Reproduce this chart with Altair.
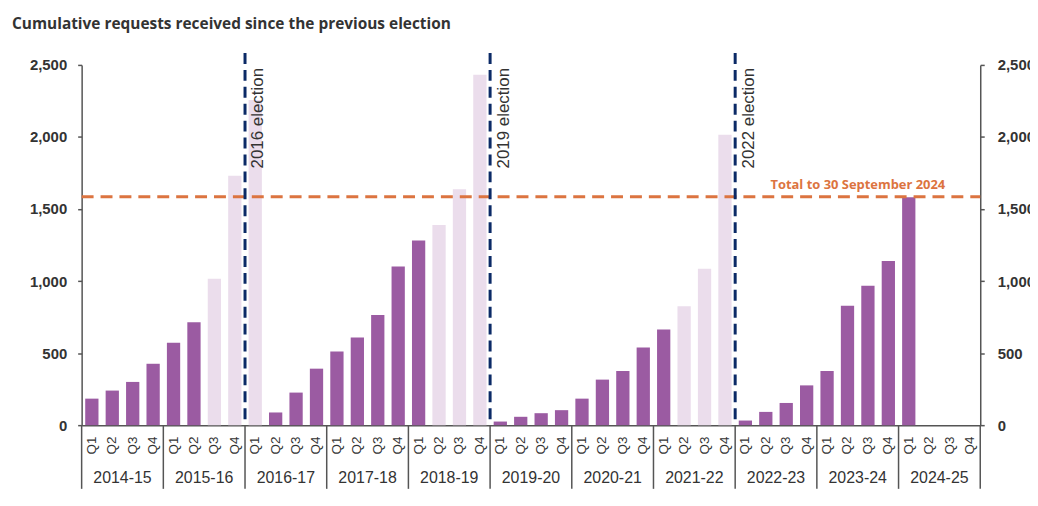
import altair as alt
import pandas as pd

# ---------------- data ----------------
years = ["2014-15", "2015-16", "2016-17", "2017-18", "2018-19", "2019-20",
         "2020-21", "2021-22", "2022-23", "2023-24", "2024-25"]
quarters = ["Q1", "Q2", "Q3", "Q4"]
requests = [
    184, 240, 300, 426,      # 2014-15
    571, 714, 1016, 1730,    # 2015-16
    2256, 88, 226, 392,      # 2016-17
    511, 608, 765, 1101,     # 2017-18
    1281, 1389, 1638, 2431,  # 2018-19
    25, 58, 83, 104,         # 2019-20
    184, 316, 376, 539,      # 2020-21
    664, 825, 1085, 2016,    # 2021-22
    32, 92, 154, 276,        # 2022-23
    376, 829, 968, 1140,     # 2023-24
    1581, None, None, None,  # 2024-25
]
light_bars = ["2015-16 Q3", "2015-16 Q4", "2016-17 Q1",
              "2018-19 Q2", "2018-19 Q3", "2018-19 Q4",
              "2021-22 Q2", "2021-22 Q3", "2021-22 Q4"]
election_years = ["2016-17", "2019-20", "2022-23"]
election_labels = ["2016 election", "2019 election", "2022 election"]
total_value = 1585
total_label = "Total to 30 September 2024"
title_text = "Cumulative requests received since the previous election"
y_ticks = [0, 500, 1000, 1500, 2000, 2500]

# ---------------- tables ----------------
keys = [f"{y} {q}" for y in years for q in quarters]
bars_df = pd.DataFrame({"key": keys, "value": requests})
bars_df["shade"] = ["light" if k in light_bars else "dark" for k in keys]
bars_df = bars_df.dropna(subset=["value"])

elec_df = pd.DataFrame({"key": [f"{y} Q1" for y in election_years],
                        "label": election_labels})
sep_df = pd.DataFrame({"key": [f"{y} Q1" for y in years]})
sep_end_df = pd.DataFrame({"key": [f"{years[-1]} Q4"]})
year_df = pd.DataFrame({"key": [f"{y} Q2" for y in years], "year": years})
total_df = pd.DataFrame({"total": [total_value], "label": [total_label]})
title_df = pd.DataFrame({"t": [title_text]})

W, H = 903, 362
step = W / len(keys)
FONT = "Liberation Sans"
HEAD = "Open Sans"
TXT = "#333333"

X = alt.X("key:N", sort=keys,
          scale=alt.Scale(domain=keys, paddingInner=0.35, paddingOuter=0.175),
          axis=alt.Axis(title=None, labelExpr="split(datum.label, ' ')[1]",
                        labelAngle=270, ticks=False, labelPadding=11,
                        labelFontSize=13.5, labelColor=TXT, labelFont=FONT,
                        domainColor="#555555", domainWidth=1.5))

yscale = alt.Scale(domain=[0, 2500], nice=False, zero=True)

bars = alt.Chart(bars_df).mark_bar().encode(
    x=X,
    y=alt.Y("value:Q", scale=yscale,
            axis=alt.Axis(title=None, values=y_ticks, format=",.0f", grid=False,
                          orient="left", tickSize=4, labelPadding=11,
                          labelFontSize=15, labelFontWeight="bold",
                          labelColor=TXT, labelFont=FONT,
                          domainColor="#555555", domainWidth=1.5,
                          tickColor="#555555", tickWidth=1.5)),
    color=alt.Color("shade:N", legend=None,
                    scale=alt.Scale(domain=["dark", "light"],
                                    range=["#9B5BA2", "#EBDDEC"])),
)

total_rule = alt.Chart(total_df).mark_rule(
    color="#DC7440", strokeWidth=3, strokeDash=[12, 7]
).encode(
    y=alt.Y("total:Q", scale=yscale,
            axis=alt.Axis(title=None, values=y_ticks, format=",.0f", grid=False,
                          orient="right", tickSize=4, labelPadding=13,
                          labelFontSize=15, labelFontWeight="bold",
                          labelColor=TXT, labelFont=FONT,
                          domainColor="#555555", domainWidth=1.5,
                          tickColor="#555555", tickWidth=1.5)),
    x=alt.value(0), x2=alt.value(W),
)

total_text = alt.Chart(total_df).mark_text(
    font=HEAD, fontSize=13, fontWeight="bold", color="#DC7440",
    align="center", baseline="alphabetic"
).encode(x=alt.value(780), y=alt.value(125), text="label:N")

elec_rule = alt.Chart(elec_df).mark_rule(
    color="#0B2A66", strokeWidth=3, strokeDash=[11, 6], xOffset=-step / 2
).encode(x=X, y=alt.value(-12), y2=alt.value(H))

elec_text = alt.Chart(elec_df).mark_text(
    font=FONT, fontSize=17, color=TXT, angle=270, align="right",
    baseline="top", xOffset=-step / 2 + 5.5
).encode(x=X, y=alt.value(3), text="label:N")

sep_rule = alt.Chart(sep_df).mark_rule(
    color="#555555", strokeWidth=1.5, xOffset=-step / 2
).encode(x=X, y=alt.value(H), y2=alt.value(H + 64))

sep_end = alt.Chart(sep_end_df).mark_rule(
    color="#555555", strokeWidth=1.5, xOffset=step / 2
).encode(x=X, y=alt.value(H), y2=alt.value(H + 64))

year_text = alt.Chart(year_df).mark_text(
    font=FONT, fontSize=16, color=TXT, align="center", baseline="middle",
    xOffset=step / 2
).encode(x=X, y=alt.value(H + 53), text="year:N")

title = alt.Chart(title_df).mark_text(
    font=HEAD, fontSize=15.5, fontWeight="bold", color=TXT,
    align="left", baseline="alphabetic"
).encode(x=alt.value(-70), y=alt.value(-36), text="t:N")

chart = alt.layer(
    bars, total_rule, elec_rule, elec_text, total_text,
    sep_rule, sep_end, year_text, title
).resolve_scale(y="independent").properties(
    width=W, height=H,
    autosize=alt.AutoSizeParams(type="none"),
    padding={"left": 74, "top": 56, "right": 50, "bottom": 70},
    background="white",
).configure_view(stroke=None)

chart.save("out.html", embed_options={"renderer": "svg", "actions": False})
